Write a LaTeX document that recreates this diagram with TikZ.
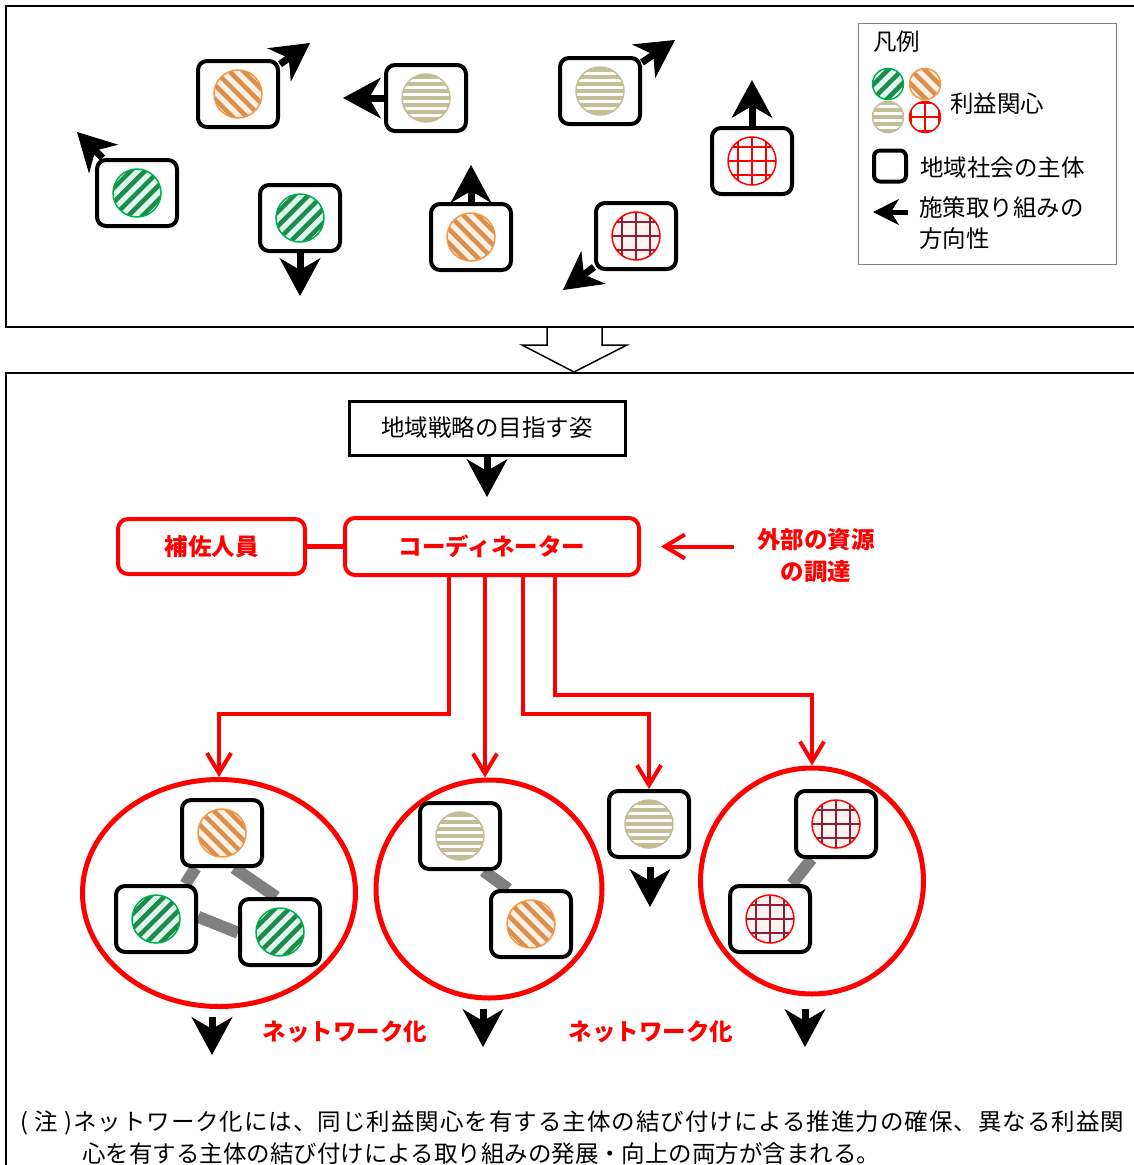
\documentclass[tikz,border=0pt]{standalone}
\usepackage{fontspec}
\setmainfont{Noto Sans CJK JP}
\newfontfamily\notefont[LetterSpace=4.2]{Noto Sans CJK JP}
\usetikzlibrary{arrows.meta,shapes.geometric,backgrounds}

\definecolor{stripegreen}{HTML}{1E8A4C}
\definecolor{ringgreen}{HTML}{00B050}
\definecolor{mintfill}{HTML}{DDF7EA}
\definecolor{stripeorange}{HTML}{D9904F}
\definecolor{ringorange}{HTML}{F79646}
\definecolor{peachfill}{HTML}{FBF0E4}
\definecolor{tan}{HTML}{C4BD97}
\definecolor{maroon}{HTML}{8E1F33}
\definecolor{blush}{HTML}{FFF2F0}

\def\bigtxt{\fontsize{23.5}{32}\selectfont}
% stripes inside a path picture: angle, gap, width, colour
\newcommand{\stripeset}[4]{%
  \begin{scope}[shift={(path picture bounding box.center)}]
  \foreach \k in {-4,...,4}
    \draw[#4,line width=#3] ({-\k*#2*sin(#1)-40*cos(#1)},{\k*#2*cos(#1)-40*sin(#1)}) -- ({-\k*#2*sin(#1)+40*cos(#1)},{\k*#2*cos(#1)+40*sin(#1)});
  \end{scope}}

\begin{document}
\begin{tikzpicture}[x=1pt,y=-1pt]
		\tikzstyle{txt}=[font=\bigtxt,inner sep=0pt]
		\tikzstyle{redtxt}=[txt,text=red,font=\bigtxt\bfseries]
		\tikzstyle{frame}=[line width=2.5pt]
		\tikzstyle{actor}=[draw,line width=4pt,rounded corners=9pt,fill=white,minimum width=80pt,minimum height=66pt,inner sep=0pt]
		\tikzstyle{stake}=[circle,line width=1.5pt,minimum size=48pt,inner sep=0pt]
		\tikzstyle{stake-green}=[stake,draw=ringgreen,fill=mintfill,path picture={\stripeset{-45}{10}{4.5pt}{stripegreen}}]
		\tikzstyle{stake-orange}=[stake,draw=ringorange,fill=peachfill,path picture={\stripeset{45}{10}{4.5pt}{stripeorange}}]
		\tikzstyle{stake-beige}=[stake,draw=tan,fill=white,path picture={\stripeset{0}{7}{3.8pt}{tan}}]
		\tikzstyle{stake-red}=[stake,draw=red,fill=white,path picture={\stripeset{0}{14}{1.6pt}{red}\stripeset{90}{14}{1.6pt}{red}}]
		\tikzstyle{stake-maroon}=[stake,draw=red,fill=blush,path picture={\stripeset{0}{14}{1.6pt}{maroon}\stripeset{90}{14}{1.6pt}{maroon}}]
		\tikzstyle{move}=[line width=7pt,-{Stealth[length=38pt,width=41pt,inset=12pt,line width=1pt]}]
		\tikzstyle{feed}=[draw=red,line width=4pt,-{Straight Barb[length=20pt,width=24pt]}]
		\tikzstyle{redbox}=[redtxt,draw=red,line width=4pt,rounded corners=10pt]
		\tikzstyle{net}=[ellipse,draw=red,line width=5pt]
		\tikzstyle{tie}=[draw=gray,line width=12pt]

		\useasboundingbox (0,0) rectangle (1134,1165);

			% Draw the hollow arrow and the two panels
		\draw[line width=1.5pt,fill=white] (547,327) -- (547,345) -- (522,345) -- (574,372) -- (627,345) -- (602,345) -- (602,327);
		\draw[frame] (1140,6) -- (6,6) -- (6,327) -- (1140,327);
		\draw[frame] (1140,373) -- (6,373) -- (6,1170);

			% Draw the actors of the upper panel
		\foreach \name/\x/\y/\kind in {t1/238/94/orange,t2/426/98/beige,t3/600/91/beige,t4/752/161/red,t5/137/193/green,t6/300/218/green,t7/471/237/orange,t8/636/236/maroon}
		{
		\node[actor] (\name) at (\x,\y) {};
		\node[stake-\kind] at (\name) {};
		}

			% Each actor goes its own way
		\foreach \name/\x/\y in {t1/310/43,t2/343/98,t3/675/40,t4/752/80,t5/77/132,t6/300/296,t7/471/165,t8/563/290}
		{
		\coordinate (\name-tip) at (\x,\y);
		\draw[move] (\name) -- (\name-tip);
		}

			% Legend
		\node[draw=gray,line width=1.2pt,minimum width=258pt,minimum height=241pt] (legend) at (987.5,144) {};
		\node[txt,anchor=west] (L-title) at (873,42) {凡例};
		\node[stake-green,minimum size=31pt] (L-1) at (888,84) {};
		\node[stake-orange,minimum size=31pt] (L-2) at (925,84) {};
		\node[stake-beige,minimum size=31pt] (L-3) at (888,117) {};
		\node[stake-red,minimum size=31pt] (L-4) at (925,117) {};
		\node[txt,anchor=west] (L-stake) at (950,104) {利益関心};
		\node[actor,minimum width=32pt,minimum height=31pt,rounded corners=6pt] (L-5) at (890,166) {};
		\node[txt,anchor=west] (L-actor) at (920,168) {地域社会の主体};
		\coordinate (L-tail) at (908,212);
		\coordinate (L-tip) at (873,212);
		\draw[line width=5pt,-{Stealth[length=26pt,width=26pt,inset=8pt,line width=1pt]}] (L-tail) -- (L-tip);
		\node[txt,anchor=west] (L-move1) at (919,208) {施策取り組みの};
		\node[txt,anchor=west] (L-move2) at (919,239) {方向性};

			% Lower panel: goal, coordinator and helpers
		\node[txt,draw,line width=3pt,minimum width=276pt,minimum height=54pt] (goal) at (487,428) {地域戦略の目指す姿};
		\coordinate (goal-tip) at (487,497);
		\draw[move] (goal) -- (goal-tip);

		\node[redbox,minimum width=294pt,minimum height=57pt] (coord) at (492,546.5) {コーディネーター};
		\node[redbox,minimum width=187pt,minimum height=55pt] (aide) at (211.5,546.5) {補佐人員};
		\draw[draw=red,line width=4.5pt] (aide) -- (coord);

		\node[redtxt,align=center] (ext) at (816,556) {外部の資源\\の調達};
		\draw[feed,shorten <=23pt,shorten >=20pt] (ext.west |- coord.east) -- (coord.east);

			% Draw the networks
		\node[net,minimum width=273pt,minimum height=227pt] (net1) at (219,893) {};
		\node[net,minimum width=226pt,minimum height=218pt] (net2) at (489,889) {};
		\node[net,minimum width=223pt,minimum height=226pt] (net3) at (812,881) {};

		\foreach \name/\x/\y/\kind in {b1/222/833/orange,b2/156/919/green,b3/280/932/green,b4/460/836/beige,b5/531/924/orange,b6/649/824/beige,b7/836/824/maroon,b8/770/919/maroon}
		{
		\node[actor] (\name) at (\x,\y) {};
		\node[stake-\kind] at (\name) {};
		}

			% Ties between actors, behind the boxes
		\begin{scope}[on background layer]
		\path[tie] (b1.-127) -- (b2.50);
		\path[tie] (b1.-71) -- (b3.96);
		\path[tie] (b2.3) -- (b3.181);
		\path[tie] (b4.-56) -- (b5.123);
		\path[tie] (b7.-125) -- (b8.58);
		\end{scope}

			% Connect the coordinator with every network
		\draw[feed] ([xshift=-43pt]coord.south) -- ++(0,137) -| (net1.north);
		\draw[feed] ([xshift=-7pt]coord.south) -- ([xshift=-4pt]net2.north);
		\draw[feed] ([xshift=31pt]coord.south) -- ++(0,137) -| (b6.north);
		\draw[feed] ([xshift=63pt]coord.south) -- ++(0,118) -| (net3.north);

			% Arrows out of the networks
		\coordinate (O-1) at (212,1055);
		\coordinate (O-2) at (483,1047);
		\coordinate (O-3) at (650,907);
		\coordinate (O-4) at (805,1047);
		\draw[move,shorten <=8pt] (net1.south -| O-1) -- (O-1);
		\draw[move,shorten <=8pt] (net2.south -| O-2) -- (O-2);
		\draw[move,shorten <=8pt] (b6.south -| O-3) -- (O-3);
		\draw[move,shorten <=12pt] (net3.south -| O-4) -- (O-4);

		\node[redtxt] (nw1) at (345,1032) {ネットワーク化};
		\node[redtxt] (nw2) at (651,1032) {ネットワーク化};

			% Note
		\node[txt,font=\bigtxt\notefont,anchor=base west] (note1) at (20,1130) {( 注 )ネットワーク化には、同じ利益関心を有する主体の結び付けによる推進力の確保、異なる利益関};
		\node[txt,anchor=base west] (note2) at (82,1162) {心を有する主体の結び付けによる取り組みの発展・向上の両方が含まれる。};
\end{tikzpicture}
\end{document}
